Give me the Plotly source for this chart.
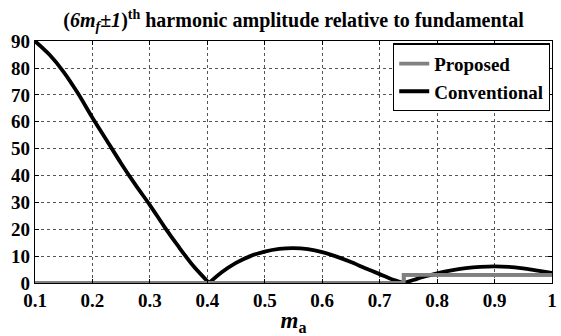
import plotly.graph_objects as go

# Conventional (black) curve, split into its three lobes
lobe1_x = [0.10, 0.125, 0.15, 0.175, 0.20, 0.225, 0.25, 0.275, 0.30, 0.325, 0.35, 0.375, 0.403]
lobe1_y = [90, 85, 78.5, 70.5, 61.5, 53, 44.5, 36.5, 29, 21, 13.5, 6.5, 0]
lobe2_x = [0.403, 0.425, 0.45, 0.475, 0.50, 0.525, 0.55, 0.575, 0.60, 0.625, 0.65, 0.675, 0.70, 0.72, 0.742]
lobe2_y = [0, 4, 7.5, 10, 11.7, 12.7, 13, 12.6, 11.5, 9.8, 7.8, 5.5, 3.3, 1.5, 0]
lobe3_x = [0.742, 0.76, 0.78, 0.80, 0.825, 0.85, 0.875, 0.90, 0.925, 0.95, 0.975, 1.0]
lobe3_y = [0, 1.2, 2.5, 3.6, 4.7, 5.5, 6.0, 6.2, 6.0, 5.4, 4.6, 3.8]

# Proposed (gray) curve
prop_x = [0.10, 0.742, 0.742, 1.0]
prop_y = [0, 0, 3.0, 3.0]

x_ticks = [0.1, 0.2, 0.3, 0.4, 0.5, 0.6, 0.7, 0.8, 0.9, 1.0]
x_tick_text = ["0.1", "0.2", "0.3", "0.4", "0.5", "0.6", "0.7", "0.8", "0.9", "1"]
y_ticks = [0, 10, 20, 30, 40, 50, 60, 70, 80, 90]

FONT = "'Liberation Serif', 'DejaVu Serif', serif"

fig = go.Figure()
fig.add_trace(go.Scatter(x=prop_x, y=prop_y, mode="lines", name="<b>Proposed</b>",
                         line=dict(color="#808080", width=3.8), legendrank=1, showlegend=True))
for i, (lx, ly) in enumerate([(lobe1_x, lobe1_y), (lobe2_x, lobe2_y), (lobe3_x, lobe3_y)]):
    fig.add_trace(go.Scatter(x=lx, y=ly, mode="lines", name="<b>Conventional</b>",
                             line=dict(color="black", width=3.8, shape="spline", smoothing=0.8),
                             legendgroup="conv", showlegend=(i == 0), legendrank=2))
# redraw proposed on top so the zero line stays gray
fig.add_trace(go.Scatter(x=prop_x, y=prop_y, mode="lines", showlegend=False,
                         line=dict(color="#808080", width=3.8), cliponaxis=False))

axis_common = dict(showline=True, linecolor="black", linewidth=1.3, mirror="allticks",
                   ticks="inside", ticklen=4, tickcolor="black",
                   showgrid=True, gridcolor="#555", griddash="dot", gridwidth=1,
                   zeroline=False, ticklabeloverflow="allow",
                   tickfont=dict(family=FONT, size=19, color="black"))

fig.update_xaxes(range=[0.1, 1.0001], tickvals=x_ticks, ticktext=["<b>%s</b>" % t for t in x_tick_text],
                 title=dict(text="<b><i>m</i><sub>a</sub></b>", font=dict(family=FONT, size=23, color="black"),
                            standoff=4),
                 **axis_common)
fig.update_yaxes(range=[0, 90.05], tickvals=y_ticks, ticktext=["<b>%d</b>" % t for t in y_ticks],
                 **axis_common)

fig.update_layout(
    width=561, height=336,
    margin=dict(l=35, r=4, t=41, b=53),
    paper_bgcolor="white", plot_bgcolor="white",
    font=dict(family=FONT),
    title=dict(text="<b>(<i>6m<sub>f</sub>±1</i>)<sup>th</sup> harmonic amplitude relative to fundamental</b>",
               font=dict(family=FONT, size=20, color="black"),
               x=0.5, xref="paper", xanchor="center", y=0.94, yref="container", yanchor="middle"),
    legend=dict(x=0.996, y=0.99, xanchor="right", yanchor="top",
                bgcolor="white", bordercolor="black", borderwidth=1.3,
                font=dict(family=FONT, size=19, color="black"),
                tracegroupgap=0, itemwidth=30),
    showlegend=True,
)

fig.write_html("out.html")
